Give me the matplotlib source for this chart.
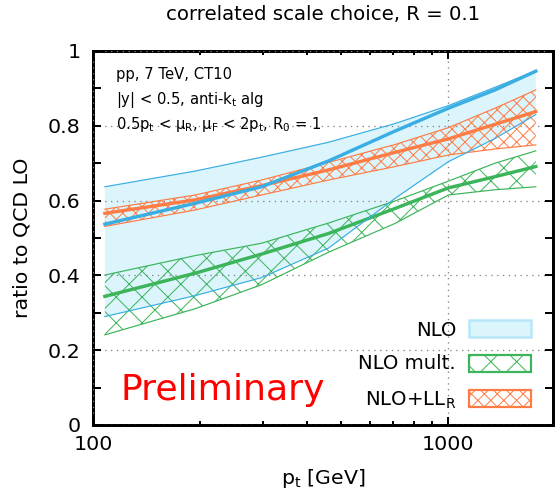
import matplotlib
matplotlib.use("Agg")
import matplotlib.pyplot as plt
from matplotlib.patches import Rectangle
from matplotlib.ticker import MultipleLocator, FixedLocator, NullFormatter, FuncFormatter

# jet transverse momentum [GeV]
pt = [108, 194, 298, 460, 708, 1000, 1353, 1762]

# NLO: scale-variation envelope and central value
nlo_hi = [0.637, 0.679, 0.716, 0.756, 0.806, 0.854, 0.903, 0.947]
nlo_c = [0.537, 0.593, 0.637, 0.706, 0.786, 0.847, 0.896, 0.946]
nlo_lo = [0.290, 0.346, 0.394, 0.473, 0.606, 0.704, 0.766, 0.830]

# NLO multiplicative
mult_hi = [0.401, 0.453, 0.486, 0.540, 0.599, 0.652, 0.700, 0.733]
mult_c = [0.344, 0.406, 0.457, 0.512, 0.579, 0.634, 0.664, 0.691]
mult_lo = [0.241, 0.311, 0.375, 0.462, 0.539, 0.615, 0.629, 0.637]

# NLO + LL_R
ll_hi = [0.577, 0.615, 0.655, 0.702, 0.750, 0.795, 0.847, 0.896]
ll_c = [0.566, 0.602, 0.640, 0.682, 0.729, 0.765, 0.804, 0.838]
ll_lo = [0.531, 0.575, 0.615, 0.655, 0.691, 0.722, 0.738, 0.749]

labels = ["NLO", "NLO mult.", r"NLO+LL$_\mathregular{R}$"]

BLUE = "#3aaee2"
BLUE_FILL = "#dcf5fd"
BLUE_EDGE = "#b6e7f9"
GREEN = "#3cb55a"
ORANGE = "#ff7d45"
HATCH_MULT = "xx"
HATCH_LL = "xxxx"

DPI = 155
W, H = 555, 494


def px(n):
    """Size given in pixels, converted to points."""
    return n * 72.0 / DPI


plt.rcParams["font.family"] = "DejaVu Sans"
plt.rcParams["hatch.linewidth"] = px(1.0)
plt.rcParams["mathtext.default"] = "regular"

fig = plt.figure(figsize=(W / DPI, H / DPI), dpi=DPI)
ax = fig.add_axes([93 / W, 69 / H, 460 / W, 374 / H])

THIN, THICK = px(1.2), px(3.4)

# NLO band
ax.fill_between(pt, nlo_lo, nlo_hi, facecolor=BLUE_FILL, edgecolor="none", linewidth=0, zorder=1)

# NLO mult. band
ax.fill_between(pt, mult_lo, mult_hi, facecolor="none", edgecolor=GREEN, linewidth=0, hatch=HATCH_MULT, zorder=2)
for y, lw in ((mult_lo, THIN), (mult_hi, THIN), (mult_c, THICK)):
    ax.plot(pt, y, color=GREEN, lw=lw, zorder=3)

# NLO+LL_R band
ax.fill_between(pt, ll_lo, ll_hi, facecolor="none", edgecolor=ORANGE, linewidth=0, hatch=HATCH_LL, zorder=4)
for y, lw in ((ll_lo, THIN), (ll_hi, THIN), (ll_c, THICK)):
    ax.plot(pt, y, color=ORANGE, lw=lw, zorder=5)

# NLO lines
for y, lw in ((nlo_lo, THIN), (nlo_hi, THIN), (nlo_c, THICK)):
    ax.plot(pt, y, color=BLUE, lw=lw, zorder=6)

ax.set_xscale("log")
ax.set_xlim(100, 1970)
ax.set_ylim(0, 1)

ax.xaxis.set_major_locator(FixedLocator([100, 1000]))
ax.xaxis.set_major_formatter(FuncFormatter(lambda v, p: f"{v:.0f}"))
ax.xaxis.set_minor_locator(FixedLocator([200, 300, 400, 500, 600, 700, 800, 900]))
ax.xaxis.set_minor_formatter(NullFormatter())
ax.yaxis.set_major_locator(MultipleLocator(0.2))
ax.yaxis.set_minor_locator(MultipleLocator(0.1))
ax.yaxis.set_major_formatter(FuncFormatter(lambda v, p: f"{v:g}"))

FS_TICK = px(20.5)
FS_KEY = px(19.8)
ax.tick_params(which="both", direction="in", top=True, right=True, width=px(2), labelsize=FS_TICK)
ax.tick_params(axis="x", which="major", length=px(8), pad=px(10))
ax.tick_params(axis="x", which="minor", length=px(4.3))
ax.tick_params(axis="y", which="both", length=px(8), pad=px(12.5))

for s in ax.spines.values():
    s.set_linewidth(px(3))

ax.grid(True, which="major", linestyle=(0, (1, 3.5)), color="#808080", linewidth=px(1.3), zorder=7)
ax.set_axisbelow(False)

ax.set_xlabel(r"p$_\mathregular{t}$ [GeV]", fontsize=FS_TICK, labelpad=px(13))
ax.set_ylabel("ratio to QCD LO", fontsize=FS_TICK, labelpad=px(16.5))
fig.text(323 / W, 1 - 14 / H, "correlated scale choice, R = 0.1", ha="center", va="center", fontsize=FS_KEY)


def ay(ypix):
    return (425.3 - ypix) / 374.4


def axx(xpix):
    return (xpix - 93) / 460


# process information
info = [
    "pp, 7 TeV, CT10",
    r"|y| < 0.5, anti-k$_\mathregular{t}$ alg",
    r"0.5p$_\mathregular{t}$ < μ$_\mathregular{R}$, μ$_\mathregular{F}$ < 2p$_\mathregular{t}$, R$_\mathregular{0}$ = 1",
]
for txt, yb in zip(info, (79, 104, 128.5)):
    ax.text(axx(116.5), ay(yb), txt, transform=ax.transAxes, fontsize=px(14.8), va="baseline", ha="left", zorder=8)

ax.text(axx(120), ay(400), "Preliminary", transform=ax.transAxes, color="#ff0000",
        fontsize=px(36.2), va="baseline", ha="left", zorder=8)

# key
key_styles = [
    dict(facecolor=BLUE_FILL, edgecolor=BLUE_EDGE, lw=px(2.5)),
    dict(facecolor="white", edgecolor=GREEN, lw=px(2.2), hatch=HATCH_MULT),
    dict(facecolor="white", edgecolor=ORANGE, lw=px(2.2), hatch=HATCH_LL),
]
for lab, st, yc, yb in zip(labels, key_styles, (329, 364, 398.5), (336, 369, 406)):
    ax.text(axx(456), ay(yb), lab, transform=ax.transAxes, fontsize=FS_KEY, ha="right", va="baseline", zorder=9)
    ax.add_patch(Rectangle((axx(469), ay(yc + 8.5)), axx(531) - axx(469), ay(yc - 8.5) - ay(yc + 8.5),
                           transform=ax.transAxes, zorder=9, **st))

fig.savefig("out.png", dpi=DPI)
